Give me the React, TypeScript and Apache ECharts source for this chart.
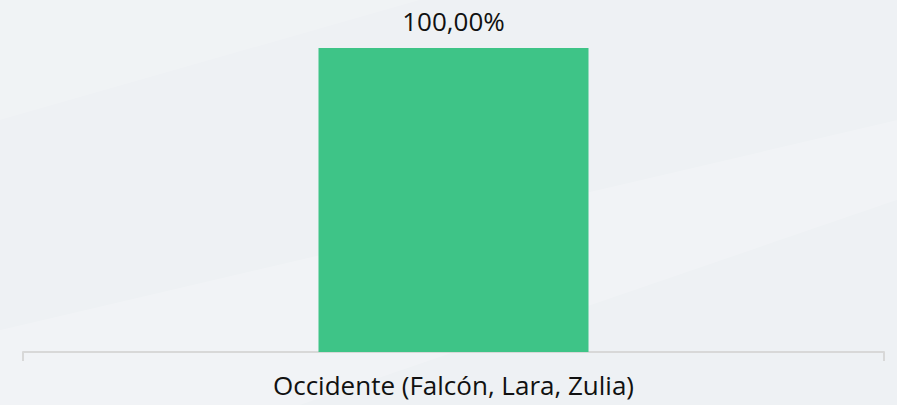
import React, { useEffect, useRef } from "react";
import * as echarts from "echarts";

const categories = ["Occidente (Falcón, Lara, Zulia)"];
const values = [100];
const valueLabels = ["100,00%"];

export default function App() {
  const ref = useRef<HTMLDivElement>(null);
  useEffect(() => {
    const chart = echarts.init(ref.current!, null, { renderer: "svg" });
    chart.setOption({
      animation: false,
      backgroundColor: "#eef1f4",
      graphic: [
        {
          type: "polygon",
          silent: true,
          z: -10,
          shape: { points: [[0, 405], [0, 330], [897, 120], [897, 200], [300, 405]] },
          style: { fill: "rgba(255,255,255,0.18)" },
        },
        {
          type: "polygon",
          silent: true,
          z: -10,
          shape: { points: [[0, 0], [420, 0], [0, 120]] },
          style: { fill: "rgba(255,255,255,0.15)" },
        },
      ],
      grid: { left: 23, right: 13, top: 48, bottom: 53, containLabel: false },
      xAxis: {
        type: "category",
        data: categories,
        axisLine: { lineStyle: { color: "#d8d8d8", width: 2 } },
        axisTick: { show: true, length: 9, lineStyle: { color: "#d8d8d8", width: 2 } },
        axisLabel: {
          color: "#111",
          fontFamily: "Open Sans",
          fontSize: 26,
          fontWeight: 500,
          margin: 20,
        },
      },
      yAxis: { type: "value", min: 0, max: 100, show: false },
      series: [
        {
          type: "bar",
          data: values,
          barWidth: 270,
          itemStyle: { color: "#3ec487" },
          label: {
            show: true,
            position: "top",
            distance: 14,
            color: "#111",
            fontFamily: "Open Sans",
            fontSize: 26,
            fontWeight: 500,
            formatter: (p: any) => valueLabels[p.dataIndex],
          },
        },
      ],
    });
    return () => chart.dispose();
  }, []);
  return <div ref={ref} style={{ width: 897, height: 405, position: "absolute", left: 0, top: 0 }} />;
}
